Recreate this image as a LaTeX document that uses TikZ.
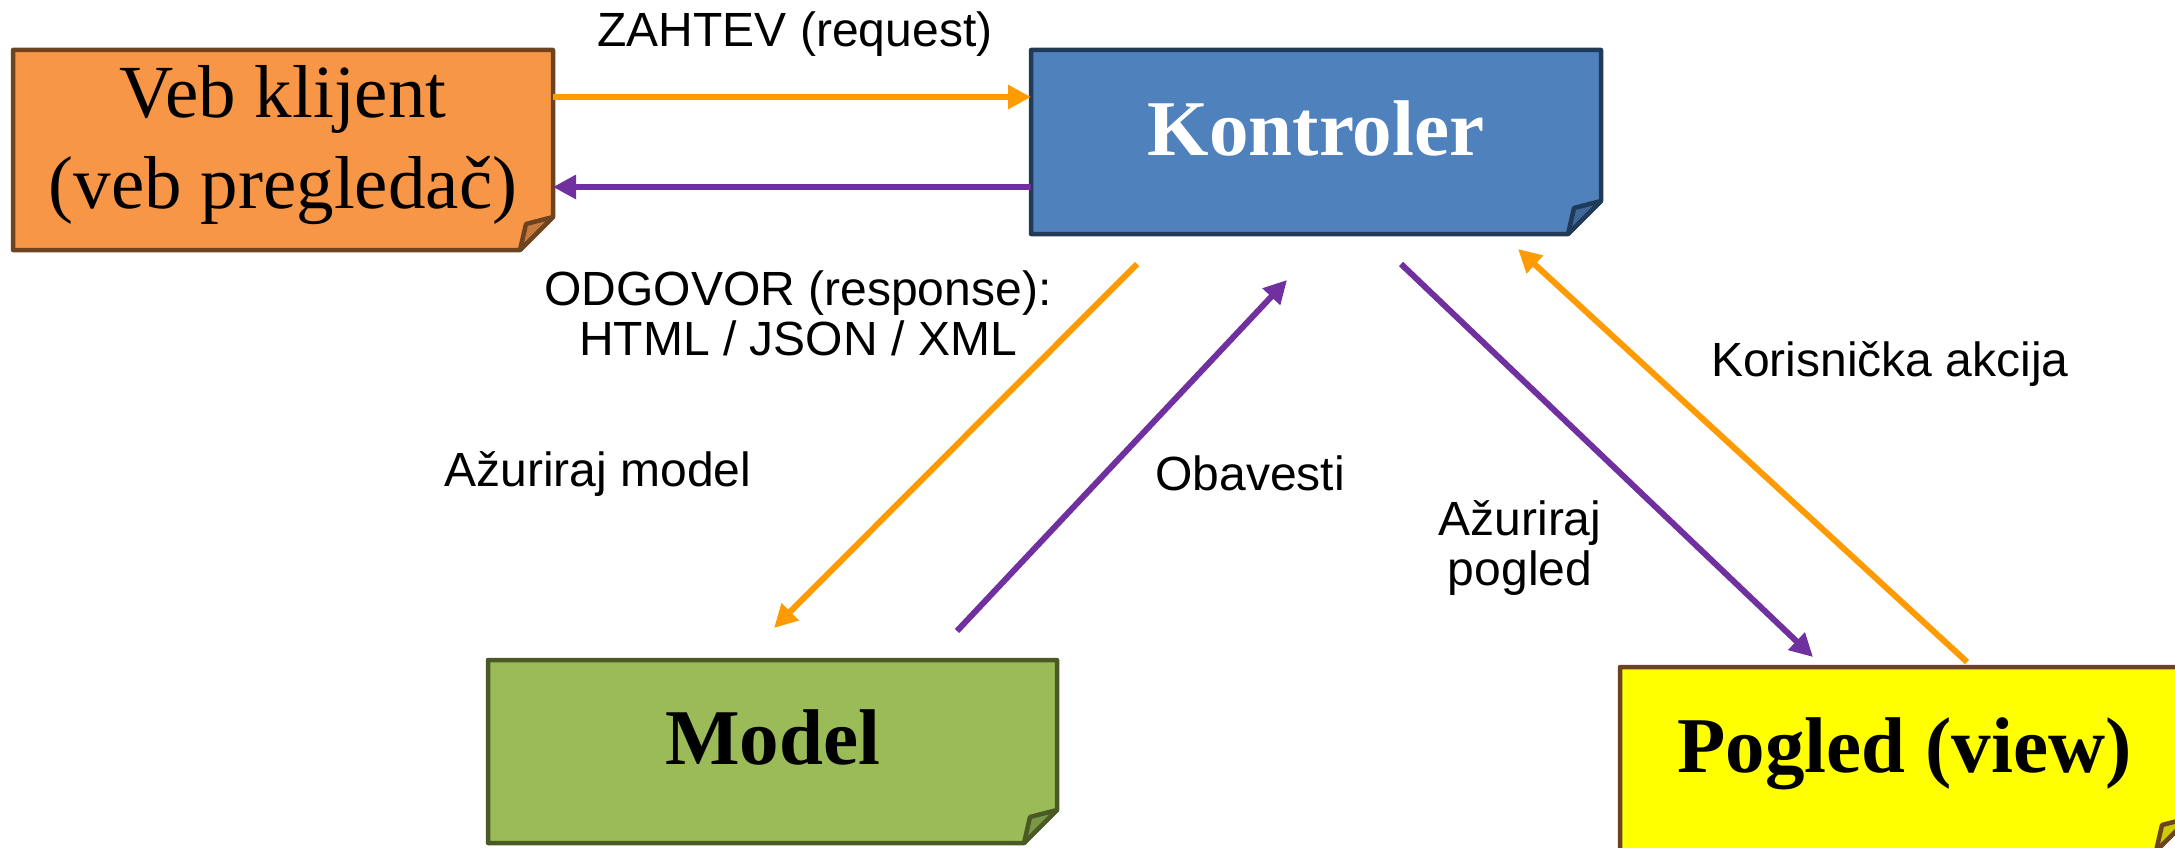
\documentclass[tikz,border=0pt]{standalone}
\usepackage{fontspec}
\setmainfont{Liberation Serif}
\newfontfamily\labelfont{Liberation Sans}
\usetikzlibrary{arrows.meta,calc,backgrounds}

\definecolor{vebfill}{HTML}{F79646}
\definecolor{vebline}{HTML}{6E4420}
\definecolor{vebfold}{HTML}{C87B3C}
\definecolor{kfill}{HTML}{4F81BD}
\definecolor{kline}{HTML}{213A58}
\definecolor{kfold}{HTML}{3F6898}
\definecolor{mfill}{HTML}{9BBB59}
\definecolor{mline}{HTML}{4A5A24}
\definecolor{mfold}{HTML}{7C9647}
\definecolor{pfill}{HTML}{FFFF00}
\definecolor{pline}{HTML}{6E4420}
\definecolor{pfold}{HTML}{CCCC00}
\definecolor{arrorange}{HTML}{FF9A00}
\definecolor{arrpurple}{HTML}{7030A0}

% note-shaped box behind a node: rectangle with a folded bottom-right corner
\newcommand\dogear[4]{%
  \begin{pgfonlayer}{background}
    \filldraw[boxline, fill=#2, draw=#3]
      (#1.north west) -- (#1.north east) -- ($(#1.south east)+(0,-33)$)
      -- ($(#1.south east)+(-33,0)$) -- (#1.south west) -- cycle;
    \filldraw[boxline, fill=#4, draw=#3]
      ($(#1.south east)+(-33,0)$) -- ($(#1.south east)+(-27,-26)$)
      -- ($(#1.south east)+(0,-33)$) -- cycle;
  \end{pgfonlayer}}

\tikzset{
  boxnode/.style={rectangle, inner sep=0pt, outer sep=0pt,
    text height=45pt, text depth=19pt,
    font=\fontsize{75}{91}\selectfont},
  boldbox/.style={boxnode, font=\fontsize{79}{91}\selectfont\bfseries},
  boxline/.style={line width=4.5pt, line join=round},
  flow/.style={line width=6pt, -{Triangle[length=23pt,width=23pt]}},
  req/.style={flow, draw=arrorange},
  resp/.style={flow, draw=arrpurple},
  lbl/.style={font=\labelfont\fontsize{48}{50}\selectfont, inner sep=0pt, anchor=base},
}

\begin{document}
\begin{tikzpicture}[x=1pt, y=-1pt]
  \clip (0,0) rectangle (2175,848);
  \begin{pgfonlayer}{background}
    \fill[white] (0,0) rectangle (2175,848);
  \end{pgfonlayer}

  % boxes
  \node[boxnode, minimum width=540pt, minimum height=200pt,
        text height=130pt, text depth=14pt] (veb) at (283,150)
    {\begin{tabular}[b]{@{}c@{}}Veb klijent\\(veb pregledač)\end{tabular}};
  \node[boldbox, minimum width=570pt, minimum height=184pt, text=white]
    (kontroler) at (1316,142) {Kontroler};
  \node[boldbox, minimum width=569pt, minimum height=183pt]
    (model) at (772.5,751.5) {Model};
  \node[boldbox, minimum width=569pt, minimum height=184pt]
    (pogled) at (1904.5,759) {Pogled (view)};

  \dogear{veb}{vebfill}{vebline}{vebfold}
  \dogear{kontroler}{kfill}{kline}{kfold}
  \dogear{model}{mfill}{mline}{mfold}
  \dogear{pogled}{pfill}{pline}{pfold}

  % request / response between client and controller
  \draw[req]  ($(veb.north east)+(0,47)$) -- ($(kontroler.north west)+(0,47)$);
  \draw[resp] ($(kontroler.north west)+(0,137)$) -- ($(veb.north east)+(0,137)$);

  % controller <-> model
  \draw[req]  ($(kontroler.south west)+(106,30)$) -- ($(model.north west)+(286,-32)$);
  \draw[resp] ($(model.north west)+(469,-29)$) -- ($(kontroler.south west)+(256,46)$);

  % controller <-> view
  \draw[resp] ($(kontroler.south west)+(370,30)$) -- ($(pogled.north west)+(193,-10)$);
  \draw[req]  ($(pogled.north west)+(347,-5)$) -- ($(kontroler.south west)+(487,15)$);

  % labels
  \node[lbl] (zahtev) at (795,47) {ZAHTEV (request)};
  \node[lbl] (odgovor) at (798,305)
    {\begin{tabular}[t]{@{}c@{}}ODGOVOR (response):\\HTML / JSON / XML\end{tabular}};
  \node[lbl] (azmodel) at (598,486) {Ažuriraj model};
  \node[lbl] (obavesti) at (1250,490) {Obavesti};
  \node[lbl] (azpogled) at (1520,535)
    {\begin{tabular}[t]{@{}c@{}}Ažuriraj\\pogled\end{tabular}};
  \node[lbl] (akcija) at (1890,376) {Korisnička akcija};
\end{tikzpicture}
\end{document}
